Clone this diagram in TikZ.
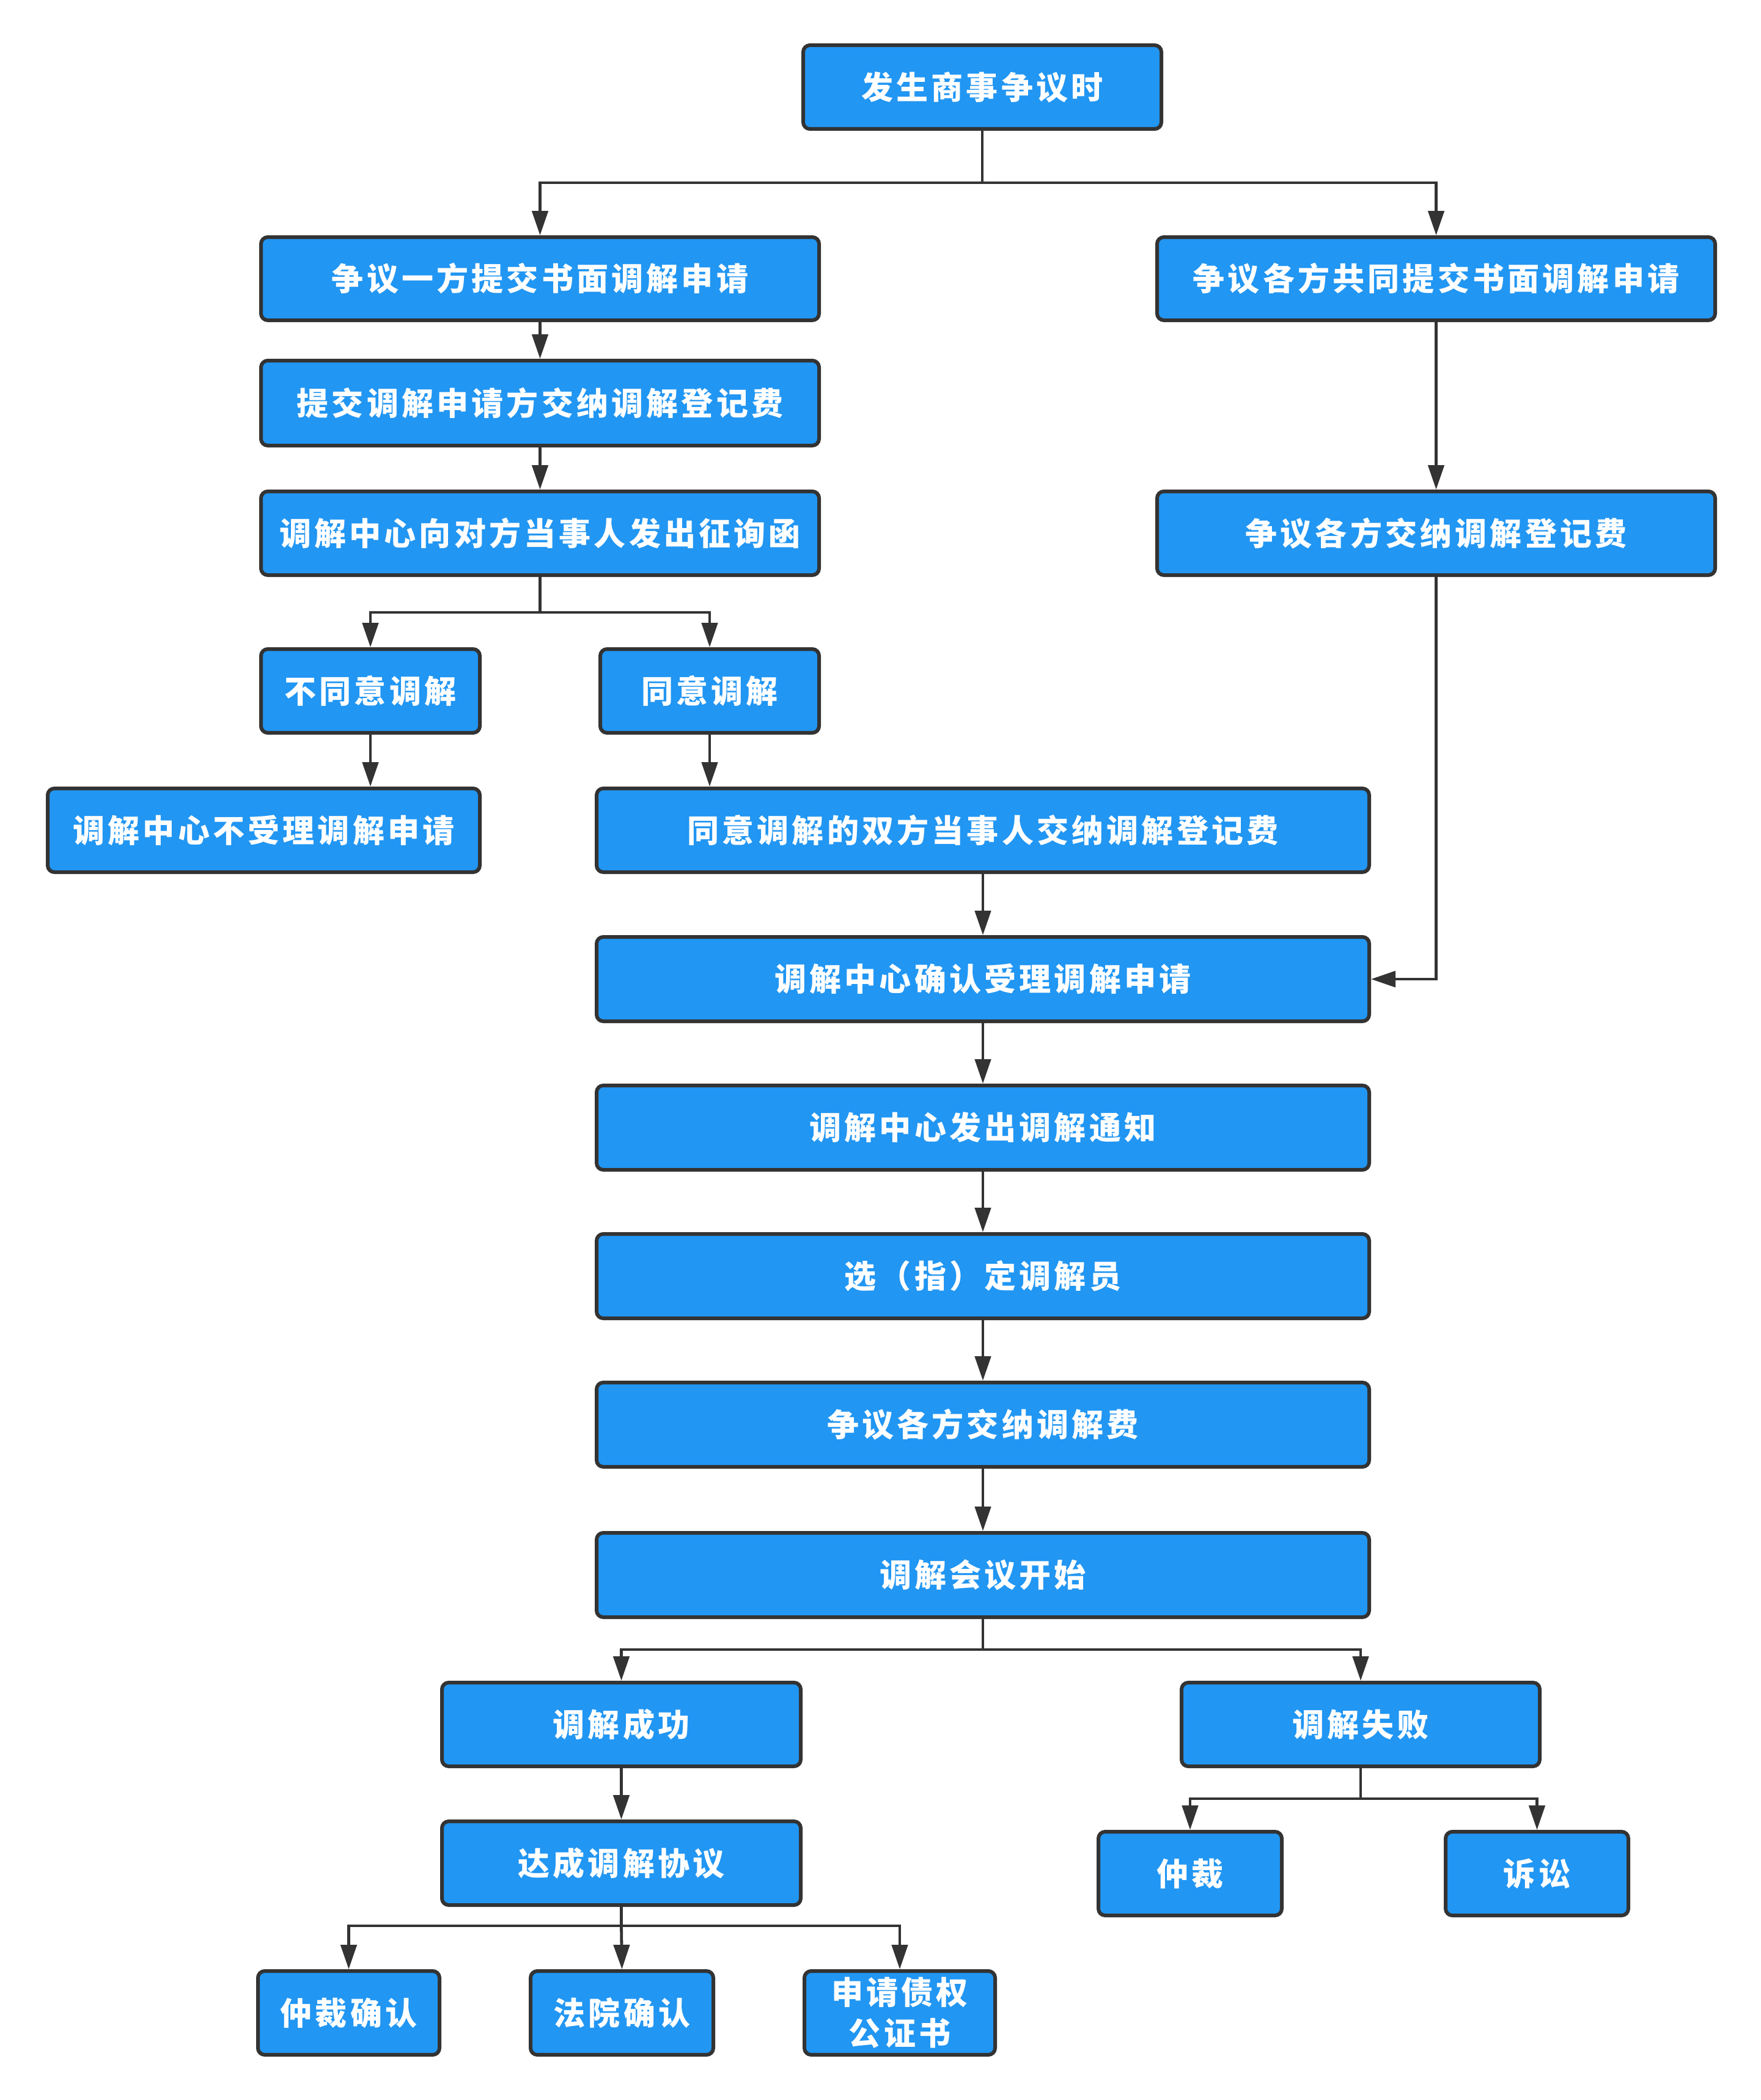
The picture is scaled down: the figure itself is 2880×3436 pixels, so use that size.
\documentclass[tikz,border=0pt]{standalone}
\usepackage{fontspec}
\newfontfamily\cjk{Noto Sans CJK SC}[LetterSpace=10]
\usetikzlibrary{arrows.meta}
\definecolor{boxblue}{RGB}{33,150,243}
\definecolor{edgegray}{RGB}{51,51,51}
\tikzset{
  stepbox/.style={draw=edgegray, line width=1.5pt, fill=boxblue, rounded corners=2.75pt,
    text=white, font=\cjk\bfseries\fontsize{13}{16.75}\selectfont, align=center, inner sep=0pt},
  flow/.style={draw=edgegray, line width=1.2pt, -{Triangle[length=10pt,width=6.5pt]}},
}
\newcommand{\bx}[6]{\node[stepbox, minimum width={(#4-#2-2)*0.25pt}, minimum height={(#5-#3-2)*0.25pt}] (#1) at ({(#2+#4)/2},{(#3+#5)/2}) {#6};}
\begin{document}
\begin{tikzpicture}[x=0.25pt,y=-0.25pt]
\useasboundingbox (0,0) rectangle (2880,3436);
\bx{top}{1313}{73}{1901}{212}{发生商事争议时}
\bx{a1}{426}{387}{1341}{525}{争议一方提交书面调解申请}
\bx{b1}{1892}{387}{2807}{525}{争议各方共同提交书面调解申请}
\bx{a2}{426}{589}{1341}{730}{提交调解申请方交纳调解登记费}
\bx{a3}{426}{803}{1341}{942}{调解中心向对方当事人发出征询函}
\bx{b2}{1892}{803}{2807}{942}{争议各方交纳调解登记费}
\bx{no}{426}{1061}{786}{1200}{不同意调解}
\bx{yes}{981}{1061}{1341}{1200}{同意调解}
\bx{rej}{77}{1289}{786}{1428}{调解中心不受理调解申请}
\bx{fee}{975}{1289}{2241}{1428}{同意调解的双方当事人交纳调解登记费}
\bx{acc}{975}{1532}{2241}{1672}{调解中心确认受理调解申请}
\bx{notice}{975}{1775}{2241}{1915}{调解中心发出调解通知}
\bx{sel}{975}{2018}{2241}{2158}{选（指）定调解员}
\bx{pay}{975}{2261}{2241}{2401}{争议各方交纳调解费}
\bx{meet}{975}{2507}{2241}{2647}{调解会议开始}
\bx{succ}{722}{2752}{1311}{2891}{调解成功}
\bx{fail}{1932}{2752}{2520}{2891}{调解失败}
\bx{agr}{722}{2979}{1311}{3118}{达成调解协议}
\bx{arb}{1796}{2996}{2098}{3135}{仲裁}
\bx{lit}{2364}{2996}{2665}{3135}{诉讼}
\bx{c1}{421}{3224}{720}{3363}{仲裁确认}
\bx{c2}{867}{3224}{1168}{3363}{法院确认}
\bx{c3}{1315}{3224}{1629}{3363}{申请债权\\公证书}
% junction levels
\coordinate (j1) at (0,299);
\coordinate (j2) at (0,1002);
\coordinate (j3) at (0,2699);
\coordinate (j4) at (0,2943);
\coordinate (j5) at (0,3151);
% connectors
\draw[flow] (top.south) -- (top.south |- j1) -| (a1.north);
\draw[flow] (top.south |- j1) -| (b1.north);
\draw[flow] (a1.south) -- (a2.north);
\draw[flow] (a2.south) -- (a3.north);
\draw[flow] (b1.south) -- (b2.north);
\draw[flow] (a3.south) -- (a3.south |- j2) -| (no.north);
\draw[flow] (a3.south |- j2) -| (yes.north);
\draw[flow] (no.south) -- (no.south |- rej.north);
\draw[flow] (yes.south) -- (yes.south |- fee.north);
\draw[flow] (b2.south) |- (acc.east);
\draw[flow] (fee.south) -- (acc.north);
\draw[flow] (acc.south) -- (notice.north);
\draw[flow] (notice.south) -- (sel.north);
\draw[flow] (sel.south) -- (pay.north);
\draw[flow] (pay.south) -- (meet.north);
\draw[flow] (meet.south) -- (meet.south |- j3) -| (succ.north);
\draw[flow] (meet.south |- j3) -| (fail.north);
\draw[flow] (succ.south) -- (agr.north);
\draw[flow] (fail.south) -- (fail.south |- j4) -| (arb.north);
\draw[flow] (fail.south |- j4) -| (lit.north);
\draw[flow] (agr.south) -- (agr.south |- j5) -| (c1.north);
\draw[flow] (agr.south |- j5) -| (c3.north);
\draw[flow] (agr.south |- j5) -- (c2.north);
\end{tikzpicture}
\end{document}
